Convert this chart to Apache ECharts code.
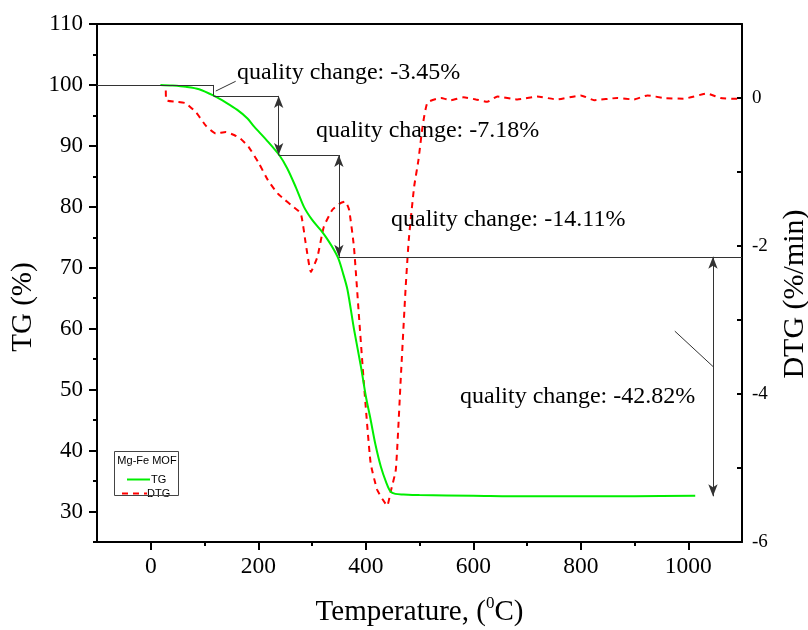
<!DOCTYPE html>
<html>
<head>
<meta charset="utf-8">
<script src="https://cdn.jsdelivr.net/npm/echarts@6/dist/echarts.min.js"></script>
<style>
  html, body { margin: 0; padding: 0; background: #fff; }
  #chart { width: 808px; height: 630px; }
</style>
</head>
<body>
<div id="chart"></div>
<script>
// TG curve
const tgTemp = [18, 40, 65, 90, 118, 140, 161, 180, 192, 215, 239, 254, 270, 285, 300, 316, 330, 341, 350, 358, 366, 378, 391, 400, 409, 418, 428, 438, 446, 455, 470, 500, 600, 700, 800, 900, 1013]
const tgVal = [100, 99.9, 99.7, 99.3, 98.2, 97.1, 95.9, 94.5, 93.2, 91, 88.5, 86.3, 83.2, 80.0, 77.9, 76.2, 74.5, 72.9, 71.3, 69.0, 66.4, 60, 53.8, 49, 45.1, 41, 37.4, 34.8, 33.3, 32.9, 32.8, 32.7, 32.6, 32.5, 32.5, 32.5, 32.6]

// DTG curve
const dtgTemp = [28, 29, 45, 65, 85, 102, 121, 140, 155, 167, 182, 201, 218, 236, 250, 260, 279, 288, 298, 310, 322, 338, 353, 362, 369, 378, 387, 397, 409, 421, 431, 440, 446, 456, 465, 474, 480, 490, 498, 506, 515, 540, 558, 582, 605, 626, 645, 682, 719, 756, 800, 825, 868, 899, 924, 955, 991, 1035, 1060, 1084, 1100]
const dtgVal = [0.1, -0.03, -0.05, -0.07, -0.2, -0.37, -0.48, -0.46, -0.5, -0.55, -0.66, -0.88, -1.11, -1.29, -1.38, -1.44, -1.56, -1.95, -2.35, -2.15, -1.74, -1.51, -1.42, -1.40, -1.51, -2.01, -2.91, -3.90, -4.93, -5.29, -5.42, -5.51, -5.33, -5.02, -3.81, -2.59, -1.92, -1.2, -0.84, -0.37, -0.06, 0.0, -0.03, 0.01, -0.02, -0.05, 0.02, -0.02, 0.02, -0.02, 0.035, -0.03, 0.0, -0.02, 0.035, 0.0, -0.01, 0.06, 0.0, -0.01, -0.01]

// tick values
const xMajor = [0, 200, 400, 600, 800, 1000]
const xMinor = [100, 300, 500, 700, 900]
const yMajor = [30, 40, 50, 60, 70, 80, 90, 100, 110]
const yMinor = [25, 35, 45, 55, 65, 75, 85, 95, 105]
const dtgTicks = [-6, -5, -4, -3, -2, -1, 0]
const dtgLabels = [-6, -4, -2, 0]

// step annotation (temperature, TG)
const stepLines = [
  [[-100, 100.0], [117, 100.0]],
  [[117, 100.0], [117, 98.2]],
  [[117, 98.2], [238, 98.2]],
  [[238, 88.5], [350, 88.5]],
  [[350, 71.8], [1100, 71.8]],
  [[121, 99.0], [158, 100.6]],
  [[975, 59.6], [1046, 53.8]]
]
const arrowLines = [
  [[238, 98.2], [238, 88.5]],
  [[350, 88.5], [350, 71.8]],
  [[1046, 71.8], [1046, 32.5]]
]
const notes = [
  { text: 'quality change: -3.45%', x: 237, y: 85 },
  { text: 'quality change: -7.18%', x: 316, y: 143 },
  { text: 'quality change: -14.11%', x: 391, y: 232 },
  { text: 'quality change: -42.82%', x: 460, y: 409 }
]

const serif = 'Liberation Serif'
const sans = 'Liberation Sans'

const markData = []
stepLines.forEach((s) => {
  markData.push([{ coord: s[0], symbol: 'none' }, { coord: s[1], symbol: 'none' }])
})
arrowLines.forEach((s) => {
  markData.push([{ coord: s[0], symbol: 'arrow' }, { coord: s[1], symbol: 'arrow' }])
})

const plainNum = (v) => String(v)

const chart = echarts.init(document.getElementById('chart'), null, { renderer: 'canvas' })

const option = {
  animation: false,
  backgroundColor: '#fff',
  grid: { left: 97, right: 66, top: 24, bottom: 88, outerBoundsMode: 'none', containLabel: false },
  legend: [
    {
      data: ['TG'],
      left: 121,
      top: 469,
      itemWidth: 23,
      itemHeight: 10,
      itemStyle: { opacity: 0 },
      textStyle: { fontFamily: sans, fontSize: 11, color: '#000', padding: [0, 0, 0, -4] }
    },
    {
      data: ['DTG'],
      left: 116,
      top: 483,
      itemWidth: 25,
      itemHeight: 10,
      itemStyle: { opacity: 0 },
      textStyle: { fontFamily: sans, fontSize: 11, color: '#000', padding: [0, 0, 0, -5] }
    }
  ],
  xAxis: [
    {
      type: 'value',
      position: 'bottom',
      min: -100,
      max: 1100,
      interval: 100,
      splitLine: { show: false },
      axisLine: { onZero: false, lineStyle: { color: '#000', width: 2 } },
      axisTick: { customValues: xMajor, length: 8, lineStyle: { width: 2, color: '#000' } },
      axisLabel: { customValues: xMajor, formatter: plainNum, fontFamily: serif, fontSize: 23.5, color: '#000', margin: 13 },
      name: 'Temperature, ({sup|0}C)',
      nameLocation: 'middle',
      nameGap: 53,
      nameTextStyle: {
        fontFamily: serif,
        fontSize: 29,
        color: '#000',
        rich: {
          sup: { fontFamily: serif, fontSize: 17, color: '#000', verticalAlign: 'top', lineHeight: 34 }
        }
      }
    },
    {
      type: 'value',
      position: 'bottom',
      min: -100,
      max: 1100,
      interval: 100,
      splitLine: { show: false },
      axisLine: { show: false, onZero: false },
      axisTick: { customValues: xMinor, length: 4, lineStyle: { width: 2, color: '#000' } },
      axisLabel: { show: false }
    },
    {
      type: 'value',
      position: 'top',
      min: -100,
      max: 1100,
      interval: 100,
      splitLine: { show: false },
      axisLine: { onZero: false, lineStyle: { color: '#000', width: 2 } },
      axisTick: { show: false },
      axisLabel: { show: false }
    }
  ],
  yAxis: [
    {
      type: 'value',
      position: 'left',
      min: 25,
      max: 110,
      interval: 5,
      splitLine: { show: false },
      axisLine: { show: true, onZero: false, lineStyle: { color: '#000', width: 2 } },
      axisTick: { show: true, customValues: yMajor, length: 8, lineStyle: { width: 2, color: '#000' } },
      axisLabel: { customValues: yMajor, fontFamily: serif, fontSize: 23, color: '#000', margin: 14 },
      name: 'TG (%)',
      nameLocation: 'middle',
      nameRotate: 90,
      nameGap: 56,
      nameTextStyle: { fontFamily: serif, fontSize: 29, color: '#000', padding: [0, 48, 0, 0] }
    },
    {
      type: 'value',
      position: 'left',
      min: 25,
      max: 110,
      interval: 5,
      splitLine: { show: false },
      axisLine: { show: false, onZero: false },
      axisTick: { show: true, customValues: yMinor, length: 4, lineStyle: { width: 2, color: '#000' } },
      axisLabel: { show: false }
    },
    {
      type: 'value',
      position: 'right',
      min: -6,
      max: 1,
      interval: 1,
      splitLine: { show: false },
      axisLine: { show: true, onZero: false, lineStyle: { color: '#000', width: 2 } },
      axisTick: { show: true, inside: true, customValues: dtgTicks, length: 5, lineStyle: { width: 2, color: '#000' } },
      axisLabel: { customValues: dtgLabels, fontFamily: serif, fontSize: 19, color: '#000', margin: 10 },
      name: 'DTG (%/min)',
      nameLocation: 'middle',
      nameRotate: 90,
      nameGap: 38,
      nameTextStyle: { fontFamily: serif, fontSize: 30, color: '#000', padding: [0, 22, 0, 0] }
    }
  ],
  graphic: [
    {
      type: 'rect',
      shape: { x: 114.5, y: 451.5, width: 64, height: 44 },
      style: { fill: 'none', stroke: '#444', lineWidth: 1 },
      z: 10
    },
    {
      type: 'text',
      x: 147,
      y: 461,
      style: { text: 'Mg-Fe MOF', fontFamily: sans, fontSize: 11, fill: '#000', textAlign: 'center', textVerticalAlign: 'middle' },
      z: 11
    }
  ].concat(notes.map((n) => ({
    type: 'text',
    x: n.x,
    y: n.y,
    style: { text: n.text, fontFamily: serif, fontSize: 24, fill: '#000', textAlign: 'left', textVerticalAlign: 'bottom' },
    z: 5
  }))),
  series: [
    {
      name: 'TG',
      type: 'line',
      xAxisIndex: 0,
      yAxisIndex: 0,
      data: tgTemp.map((t, i) => [t, tgVal[i]]),
      smooth: 0.3,
      symbol: 'none',
      color: '#00ee00',
      lineStyle: { color: '#00ee00', width: 2 },
      z: 3,
      markLine: {
        silent: true,
        animation: false,
        symbolSize: [7, 12],
        label: { show: false },
        lineStyle: { color: '#333', width: 1, type: 'solid' },
        emphasis: { disabled: true },
        data: markData
      }
    },
    {
      name: 'DTG',
      type: 'line',
      xAxisIndex: 0,
      yAxisIndex: 2,
      data: dtgTemp.map((t, i) => [t, dtgVal[i]]),
      smooth: 0.15,
      symbol: 'none',
      color: '#ff0000',
      lineStyle: { color: '#ff0000', width: 2, type: [6, 5] },
      z: 2
    }
  ]
}

chart.setOption(option)
</script>
</body>
</html>
